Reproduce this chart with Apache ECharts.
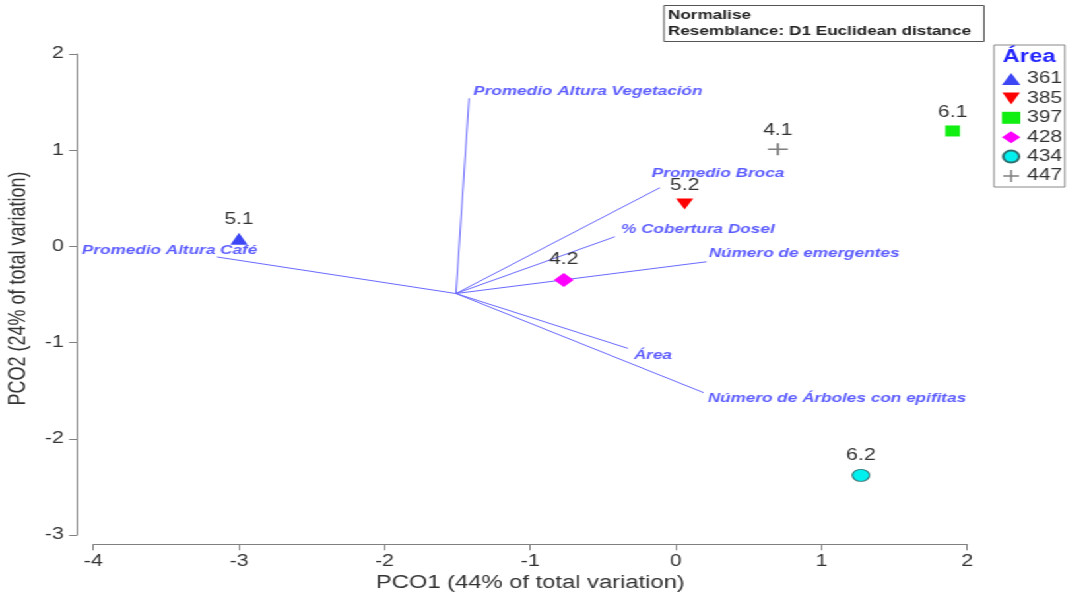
<!DOCTYPE html>
<html>
<head>
<meta charset="utf-8">
<script src="https://cdn.jsdelivr.net/npm/echarts@6/dist/echarts.min.js"></script>
<style>
  html, body { margin: 0; padding: 0; background: #fff; overflow: hidden; }
  #wrap { width: 1070px; height: 594px; overflow: hidden; }
  #chart { height: 594px; transform-origin: 0 0; }
</style>
</head>
<body>
<div id="wrap"><div id="chart"></div></div>
<script>
// Site scores on the first two principal coordinates
const areas = ['361', '385', '397', '428', '434', '447'];
const siteNames = ['5.1', '5.2', '6.1', '4.2', '6.2', '4.1'];
const pco1 = [-3.00, 0.06, 1.90, -0.77, 1.27, 0.70];
const pco2 = [0.08, 0.44, 1.20, -0.35, -2.38, 1.01];

// Variable vectors, all drawn from one common origin
const vectorOrigin = [-1.51, -0.49];
const vectorNames = [
  'Promedio Altura Vegetación',
  'Promedio Altura Café',
  'Promedio Broca',
  '% Cobertura Dosel',
  'Número de emergentes',
  'Área',
  'Número de Árboles con epifitas'
];
const vectorX = [-1.42, -3.15, -0.11, -0.42, 0.21, -0.33, 0.19];
const vectorY = [1.54, -0.11, 0.61, 0.10, -0.16, -1.06, -1.52];

// Axis ticks
const xTicks = [-4, -3, -2, -1, 0, 1, 2];
const yTicks = [-3, -2, -1, 0, 1, 2];

// ---- presentation ----
const STRETCH = 1.32;               // chart is laid out narrower, then widened to the page
const W = 1070 / STRETCH;
const FONT = 'Arial, "Liberation Sans", sans-serif';

const el = document.getElementById('chart');
el.style.width = W + 'px';
el.style.transform = 'scaleX(' + STRETCH + ')';

const markerStyle = [
  { symbol: 'triangle', size: [13, 12], color: '#3c46f5' },
  { symbol: 'path://M0,0L10,0L5,9Z', size: [13, 11], color: '#ff0000' },
  { symbol: 'rect', size: [11, 11], color: '#11ee11' },
  { symbol: 'diamond', size: [15, 14], color: '#ff00ff' },
  { symbol: 'circle', size: [13, 12], color: '#00f0f0', border: '#2f6f6f' },
  { symbol: 'path://M0,4.4H4.4V0H5.6V4.4H10V5.6H5.6V10H4.4V5.6H0Z', size: [15, 12], color: '#7f7f7f' }
];

// label centre offsets (px) from each vector tip
const vectorLabelOffset = [
  [90, -7], [-36, -7], [44, -14], [63, -7], [74, -8], [19, 7], [101, 6]
];

const siteSeries = areas.map((a, i) => ({
  type: 'scatter',
  name: a,
  z: 5,
  symbol: markerStyle[i].symbol,
  symbolSize: markerStyle[i].size,
  itemStyle: {
    color: markerStyle[i].color,
    borderColor: markerStyle[i].border || markerStyle[i].color,
    borderWidth: markerStyle[i].border ? 1 : 0,
    opacity: 1
  },
  label: {
    show: true, position: 'top', distance: 5, formatter: '{b}',
    fontFamily: FONT, fontSize: 16, color: '#333'
  },
  data: [{ value: [pco1[i], pco2[i]], name: siteNames[i] }]
}));

const option = {
  animation: false,
  backgroundColor: '#fff',
  grid: {
    left: 93.3 / STRETCH, right: (1070 - 966.7) / STRETCH, top: 54, bottom: 59,
    containLabel: false, outerBoundsMode: 'none'
  },
  xAxis: {
    type: 'value', min: xTicks[0], max: xTicks[xTicks.length - 1], interval: 1,
    offset: 9.3,
    axisLine: { show: true, onZero: false, lineStyle: { color: '#808080', width: 1 } },
    axisTick: { show: true, length: 6, lineStyle: { color: '#808080' } },
    axisLabel: { fontFamily: FONT, fontSize: 16, color: '#333', margin: 9 },
    splitLine: { show: false },
    name: 'PCO1 (44% of total variation)', nameLocation: 'middle', nameGap: 25,
    nameTextStyle: { fontFamily: FONT, fontSize: 18, color: '#333' }
  },
  yAxis: {
    type: 'value', min: yTicks[0], max: yTicks[yTicks.length - 1], interval: 1,
    offset: (93.3 - 77) / STRETCH,
    axisLine: { show: true, onZero: false, lineStyle: { color: '#808080', width: 1 } },
    axisTick: { show: true, length: 6, lineStyle: { color: '#808080' } },
    axisLabel: { fontFamily: FONT, fontSize: 16, color: '#333', margin: 10 },
    splitLine: { show: false },
    name: 'PCO2 (24% of total variation)', nameLocation: 'middle', nameGap: 34,
    nameTextStyle: { fontFamily: FONT, fontSize: 18, color: '#333', padding: [0, 0, 0, 12] }
  },
  legend: {
    data: areas,
    orient: 'vertical',
    left: 994 / STRETCH, top: 45,
    padding: [26, 2, 3, 6],
    itemGap: 3.4, itemWidth: 14, itemHeight: 12,
    borderColor: '#888', borderWidth: 1, backgroundColor: '#fff',
    textStyle: { fontFamily: FONT, fontSize: 16, color: '#333' },
    selectedMode: false
  },
  graphic: [
    {
      type: 'text', left: 1002.7 / STRETCH, top: 48, z: 100,
      style: { text: 'Área', font: 'bold 18px ' + FONT, fill: '#2424ff' }
    },
    {
      type: 'group', left: 663.3 / STRETCH, top: 5,
      children: [
        { type: 'rect', shape: { x: 0, y: 0, width: 320 / STRETCH, height: 36 },
          style: { fill: '#fff', stroke: '#555', lineWidth: 1 } },
        { type: 'text', x: 3, y: 3,
          style: { text: 'Normalise', font: 'bold 13px ' + FONT, fill: '#222' } },
        { type: 'text', x: 3, y: 19,
          style: { text: 'Resemblance: D1 Euclidean distance', font: 'bold 13px ' + FONT, fill: '#222' } }
      ]
    }
  ],
  series: [
    {
      type: 'lines', name: 'vectors', coordinateSystem: 'cartesian2d', silent: true, z: 2,
      lineStyle: { color: '#6a6aff', width: 1, opacity: 1 },
      data: vectorNames.map((n, i) => ({ coords: [vectorOrigin, [vectorX[i], vectorY[i]]] }))
    },
    {
      type: 'scatter', name: 'vectorLabels', silent: true, z: 3,
      symbolSize: 0,
      itemStyle: { color: 'transparent' },
      label: {
        show: true, position: 'inside', formatter: '{b}',
        align: 'center', verticalAlign: 'middle',
        fontFamily: FONT, fontStyle: 'italic', fontWeight: 'bold', fontSize: 13, color: '#3434ff'
      },
      data: vectorNames.map((n, i) => ({
        value: [vectorX[i], vectorY[i]], name: n,
        label: { offset: vectorLabelOffset[i] }
      }))
    }
  ].concat(siteSeries)
};

const chart = echarts.init(el, null, { renderer: 'canvas' });
chart.setOption(option);
</script>
</body>
</html>
